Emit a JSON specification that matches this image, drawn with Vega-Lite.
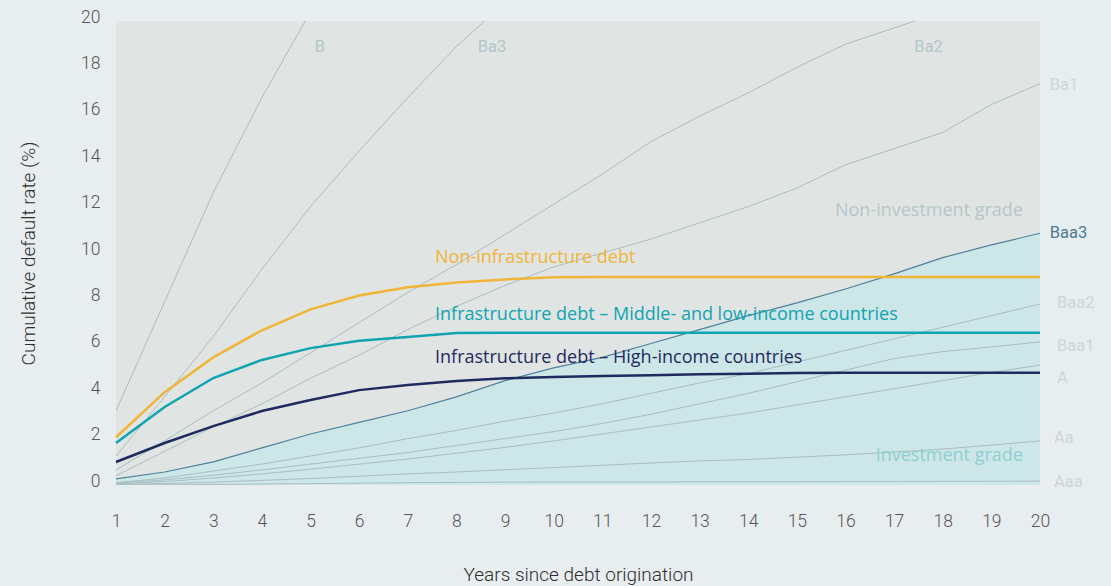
{
  "$schema": "https://vega.github.io/schema/vega-lite/v6.json",
  "width": 924,
  "height": 464,
  "autosize": "none",
  "padding": {"left": 116, "top": 21, "right": 71, "bottom": 101},
  "background": "#e8edef",
  "config": {"view": {"fill": "#e0e5e4", "stroke": null}, "font": "Roboto"},
  "datasets": {
    "curves": [
      {"series": "B", "grp": "rating", "year": 1, "value": 3.2},
      {"series": "B", "grp": "rating", "year": 2, "value": 7.9},
      {"series": "B", "grp": "rating", "year": 3, "value": 12.6},
      {"series": "B", "grp": "rating", "year": 4, "value": 16.7},
      {"series": "B", "grp": "rating", "year": 5, "value": 20.4},
      {"series": "B", "grp": "rating", "year": 6, "value": 23.6},
      {"series": "Ba3", "grp": "rating", "year": 1, "value": 1.25},
      {"series": "Ba3", "grp": "rating", "year": 2, "value": 3.8},
      {"series": "Ba3", "grp": "rating", "year": 3, "value": 6.4},
      {"series": "Ba3", "grp": "rating", "year": 4, "value": 9.3},
      {"series": "Ba3", "grp": "rating", "year": 5, "value": 12.0},
      {"series": "Ba3", "grp": "rating", "year": 6, "value": 14.4},
      {"series": "Ba3", "grp": "rating", "year": 7, "value": 16.7},
      {"series": "Ba3", "grp": "rating", "year": 8, "value": 18.9},
      {"series": "Ba3", "grp": "rating", "year": 9, "value": 20.8},
      {"series": "Ba3", "grp": "rating", "year": 10, "value": 22.5},
      {"series": "Ba2", "grp": "rating", "year": 1, "value": 0.65},
      {"series": "Ba2", "grp": "rating", "year": 2, "value": 1.9},
      {"series": "Ba2", "grp": "rating", "year": 3, "value": 3.2},
      {"series": "Ba2", "grp": "rating", "year": 4, "value": 4.4},
      {"series": "Ba2", "grp": "rating", "year": 5, "value": 5.7},
      {"series": "Ba2", "grp": "rating", "year": 6, "value": 7.0},
      {"series": "Ba2", "grp": "rating", "year": 7, "value": 8.3},
      {"series": "Ba2", "grp": "rating", "year": 8, "value": 9.5},
      {"series": "Ba2", "grp": "rating", "year": 9, "value": 10.8},
      {"series": "Ba2", "grp": "rating", "year": 10, "value": 12.1},
      {"series": "Ba2", "grp": "rating", "year": 11, "value": 13.4},
      {"series": "Ba2", "grp": "rating", "year": 12, "value": 14.8},
      {"series": "Ba2", "grp": "rating", "year": 13, "value": 15.9},
      {"series": "Ba2", "grp": "rating", "year": 14, "value": 16.9},
      {"series": "Ba2", "grp": "rating", "year": 15, "value": 18.0},
      {"series": "Ba2", "grp": "rating", "year": 16, "value": 19.0},
      {"series": "Ba2", "grp": "rating", "year": 17, "value": 19.7},
      {"series": "Ba2", "grp": "rating", "year": 18, "value": 20.4},
      {"series": "Ba2", "grp": "rating", "year": 19, "value": 21.0},
      {"series": "Ba2", "grp": "rating", "year": 20, "value": 21.6},
      {"series": "Ba1", "grp": "rating", "year": 1, "value": 0.4},
      {"series": "Ba1", "grp": "rating", "year": 2, "value": 1.45},
      {"series": "Ba1", "grp": "rating", "year": 3, "value": 2.5},
      {"series": "Ba1", "grp": "rating", "year": 4, "value": 3.5},
      {"series": "Ba1", "grp": "rating", "year": 5, "value": 4.6},
      {"series": "Ba1", "grp": "rating", "year": 6, "value": 5.6},
      {"series": "Ba1", "grp": "rating", "year": 7, "value": 6.7},
      {"series": "Ba1", "grp": "rating", "year": 8, "value": 7.7},
      {"series": "Ba1", "grp": "rating", "year": 9, "value": 8.6},
      {"series": "Ba1", "grp": "rating", "year": 10, "value": 9.4},
      {"series": "Ba1", "grp": "rating", "year": 11, "value": 10.0},
      {"series": "Ba1", "grp": "rating", "year": 12, "value": 10.6},
      {"series": "Ba1", "grp": "rating", "year": 13, "value": 11.3},
      {"series": "Ba1", "grp": "rating", "year": 14, "value": 12.0},
      {"series": "Ba1", "grp": "rating", "year": 15, "value": 12.8},
      {"series": "Ba1", "grp": "rating", "year": 16, "value": 13.8},
      {"series": "Ba1", "grp": "rating", "year": 17, "value": 14.5},
      {"series": "Ba1", "grp": "rating", "year": 18, "value": 15.2},
      {"series": "Ba1", "grp": "rating", "year": 19, "value": 16.4},
      {"series": "Ba1", "grp": "rating", "year": 20, "value": 17.3},
      {"series": "Baa3", "grp": "baa3", "year": 1, "value": 0.26},
      {"series": "Baa3", "grp": "baa3", "year": 2, "value": 0.56},
      {"series": "Baa3", "grp": "baa3", "year": 3, "value": 1.0},
      {"series": "Baa3", "grp": "baa3", "year": 4, "value": 1.6},
      {"series": "Baa3", "grp": "baa3", "year": 5, "value": 2.2},
      {"series": "Baa3", "grp": "baa3", "year": 6, "value": 2.7},
      {"series": "Baa3", "grp": "baa3", "year": 7, "value": 3.2},
      {"series": "Baa3", "grp": "baa3", "year": 8, "value": 3.8},
      {"series": "Baa3", "grp": "baa3", "year": 9, "value": 4.5},
      {"series": "Baa3", "grp": "baa3", "year": 10, "value": 5.05},
      {"series": "Baa3", "grp": "baa3", "year": 11, "value": 5.5},
      {"series": "Baa3", "grp": "baa3", "year": 12, "value": 6.1},
      {"series": "Baa3", "grp": "baa3", "year": 13, "value": 6.7},
      {"series": "Baa3", "grp": "baa3", "year": 14, "value": 7.3},
      {"series": "Baa3", "grp": "baa3", "year": 15, "value": 7.85},
      {"series": "Baa3", "grp": "baa3", "year": 16, "value": 8.45},
      {"series": "Baa3", "grp": "baa3", "year": 17, "value": 9.1},
      {"series": "Baa3", "grp": "baa3", "year": 18, "value": 9.8},
      {"series": "Baa3", "grp": "baa3", "year": 19, "value": 10.35},
      {"series": "Baa3", "grp": "baa3", "year": 20, "value": 10.85},
      {"series": "Baa2", "grp": "rating", "year": 1, "value": 0.1},
      {"series": "Baa2", "grp": "rating", "year": 2, "value": 0.3},
      {"series": "Baa2", "grp": "rating", "year": 3, "value": 0.6},
      {"series": "Baa2", "grp": "rating", "year": 4, "value": 0.9},
      {"series": "Baa2", "grp": "rating", "year": 5, "value": 1.25},
      {"series": "Baa2", "grp": "rating", "year": 6, "value": 1.6},
      {"series": "Baa2", "grp": "rating", "year": 7, "value": 2.0},
      {"series": "Baa2", "grp": "rating", "year": 8, "value": 2.35},
      {"series": "Baa2", "grp": "rating", "year": 9, "value": 2.75},
      {"series": "Baa2", "grp": "rating", "year": 10, "value": 3.1},
      {"series": "Baa2", "grp": "rating", "year": 11, "value": 3.5},
      {"series": "Baa2", "grp": "rating", "year": 12, "value": 3.95},
      {"series": "Baa2", "grp": "rating", "year": 13, "value": 4.4},
      {"series": "Baa2", "grp": "rating", "year": 14, "value": 4.8},
      {"series": "Baa2", "grp": "rating", "year": 15, "value": 5.3},
      {"series": "Baa2", "grp": "rating", "year": 16, "value": 5.8},
      {"series": "Baa2", "grp": "rating", "year": 17, "value": 6.3},
      {"series": "Baa2", "grp": "rating", "year": 18, "value": 6.8},
      {"series": "Baa2", "grp": "rating", "year": 19, "value": 7.3},
      {"series": "Baa2", "grp": "rating", "year": 20, "value": 7.8},
      {"series": "Baa1", "grp": "rating", "year": 1, "value": 0.08},
      {"series": "Baa1", "grp": "rating", "year": 2, "value": 0.22},
      {"series": "Baa1", "grp": "rating", "year": 3, "value": 0.42},
      {"series": "Baa1", "grp": "rating", "year": 4, "value": 0.65},
      {"series": "Baa1", "grp": "rating", "year": 5, "value": 0.9},
      {"series": "Baa1", "grp": "rating", "year": 6, "value": 1.15},
      {"series": "Baa1", "grp": "rating", "year": 7, "value": 1.4},
      {"series": "Baa1", "grp": "rating", "year": 8, "value": 1.7},
      {"series": "Baa1", "grp": "rating", "year": 9, "value": 2.0},
      {"series": "Baa1", "grp": "rating", "year": 10, "value": 2.3},
      {"series": "Baa1", "grp": "rating", "year": 11, "value": 2.65},
      {"series": "Baa1", "grp": "rating", "year": 12, "value": 3.05},
      {"series": "Baa1", "grp": "rating", "year": 13, "value": 3.5},
      {"series": "Baa1", "grp": "rating", "year": 14, "value": 3.95},
      {"series": "Baa1", "grp": "rating", "year": 15, "value": 4.45},
      {"series": "Baa1", "grp": "rating", "year": 16, "value": 4.95},
      {"series": "Baa1", "grp": "rating", "year": 17, "value": 5.45},
      {"series": "Baa1", "grp": "rating", "year": 18, "value": 5.75},
      {"series": "Baa1", "grp": "rating", "year": 19, "value": 5.95},
      {"series": "Baa1", "grp": "rating", "year": 20, "value": 6.17},
      {"series": "A", "grp": "rating", "year": 1, "value": 0.05},
      {"series": "A", "grp": "rating", "year": 2, "value": 0.15},
      {"series": "A", "grp": "rating", "year": 3, "value": 0.3},
      {"series": "A", "grp": "rating", "year": 4, "value": 0.48},
      {"series": "A", "grp": "rating", "year": 5, "value": 0.68},
      {"series": "A", "grp": "rating", "year": 6, "value": 0.9},
      {"series": "A", "grp": "rating", "year": 7, "value": 1.12},
      {"series": "A", "grp": "rating", "year": 8, "value": 1.37},
      {"series": "A", "grp": "rating", "year": 9, "value": 1.62},
      {"series": "A", "grp": "rating", "year": 10, "value": 1.9},
      {"series": "A", "grp": "rating", "year": 11, "value": 2.2},
      {"series": "A", "grp": "rating", "year": 12, "value": 2.5},
      {"series": "A", "grp": "rating", "year": 13, "value": 2.8},
      {"series": "A", "grp": "rating", "year": 14, "value": 3.1},
      {"series": "A", "grp": "rating", "year": 15, "value": 3.45},
      {"series": "A", "grp": "rating", "year": 16, "value": 3.8},
      {"series": "A", "grp": "rating", "year": 17, "value": 4.15},
      {"series": "A", "grp": "rating", "year": 18, "value": 4.5},
      {"series": "A", "grp": "rating", "year": 19, "value": 4.85},
      {"series": "A", "grp": "rating", "year": 20, "value": 5.17},
      {"series": "Aa", "grp": "rating", "year": 1, "value": 0.02},
      {"series": "Aa", "grp": "rating", "year": 2, "value": 0.06},
      {"series": "Aa", "grp": "rating", "year": 3, "value": 0.12},
      {"series": "Aa", "grp": "rating", "year": 4, "value": 0.2},
      {"series": "Aa", "grp": "rating", "year": 5, "value": 0.28},
      {"series": "Aa", "grp": "rating", "year": 6, "value": 0.38},
      {"series": "Aa", "grp": "rating", "year": 7, "value": 0.48},
      {"series": "Aa", "grp": "rating", "year": 8, "value": 0.56},
      {"series": "Aa", "grp": "rating", "year": 9, "value": 0.66},
      {"series": "Aa", "grp": "rating", "year": 10, "value": 0.75},
      {"series": "Aa", "grp": "rating", "year": 11, "value": 0.85},
      {"series": "Aa", "grp": "rating", "year": 12, "value": 0.95},
      {"series": "Aa", "grp": "rating", "year": 13, "value": 1.04},
      {"series": "Aa", "grp": "rating", "year": 14, "value": 1.1},
      {"series": "Aa", "grp": "rating", "year": 15, "value": 1.2},
      {"series": "Aa", "grp": "rating", "year": 16, "value": 1.3},
      {"series": "Aa", "grp": "rating", "year": 17, "value": 1.42},
      {"series": "Aa", "grp": "rating", "year": 18, "value": 1.55},
      {"series": "Aa", "grp": "rating", "year": 19, "value": 1.72},
      {"series": "Aa", "grp": "rating", "year": 20, "value": 1.9},
      {"series": "Aaa", "grp": "rating", "year": 1, "value": 0.0},
      {"series": "Aaa", "grp": "rating", "year": 2, "value": 0.01},
      {"series": "Aaa", "grp": "rating", "year": 3, "value": 0.02},
      {"series": "Aaa", "grp": "rating", "year": 4, "value": 0.04},
      {"series": "Aaa", "grp": "rating", "year": 5, "value": 0.06},
      {"series": "Aaa", "grp": "rating", "year": 6, "value": 0.08},
      {"series": "Aaa", "grp": "rating", "year": 7, "value": 0.1},
      {"series": "Aaa", "grp": "rating", "year": 8, "value": 0.11},
      {"series": "Aaa", "grp": "rating", "year": 9, "value": 0.12},
      {"series": "Aaa", "grp": "rating", "year": 10, "value": 0.13},
      {"series": "Aaa", "grp": "rating", "year": 11, "value": 0.13},
      {"series": "Aaa", "grp": "rating", "year": 12, "value": 0.13},
      {"series": "Aaa", "grp": "rating", "year": 13, "value": 0.14},
      {"series": "Aaa", "grp": "rating", "year": 14, "value": 0.14},
      {"series": "Aaa", "grp": "rating", "year": 15, "value": 0.14},
      {"series": "Aaa", "grp": "rating", "year": 16, "value": 0.15},
      {"series": "Aaa", "grp": "rating", "year": 17, "value": 0.15},
      {"series": "Aaa", "grp": "rating", "year": 18, "value": 0.16},
      {"series": "Aaa", "grp": "rating", "year": 19, "value": 0.16},
      {"series": "Aaa", "grp": "rating", "year": 20, "value": 0.17},
      {"series": "Non-infrastructure debt", "grp": "main", "year": 1, "value": 2.06},
      {"series": "Non-infrastructure debt", "grp": "main", "year": 2, "value": 4.0},
      {"series": "Non-infrastructure debt", "grp": "main", "year": 3, "value": 5.5},
      {"series": "Non-infrastructure debt", "grp": "main", "year": 4, "value": 6.67},
      {"series": "Non-infrastructure debt", "grp": "main", "year": 5, "value": 7.57},
      {"series": "Non-infrastructure debt", "grp": "main", "year": 6, "value": 8.17},
      {"series": "Non-infrastructure debt", "grp": "main", "year": 7, "value": 8.52},
      {"series": "Non-infrastructure debt", "grp": "main", "year": 8, "value": 8.73},
      {"series": "Non-infrastructure debt", "grp": "main", "year": 9, "value": 8.86},
      {"series": "Non-infrastructure debt", "grp": "main", "year": 10, "value": 8.96},
      {"series": "Non-infrastructure debt", "grp": "main", "year": 11, "value": 8.97},
      {"series": "Non-infrastructure debt", "grp": "main", "year": 12, "value": 8.97},
      {"series": "Non-infrastructure debt", "grp": "main", "year": 13, "value": 8.97},
      {"series": "Non-infrastructure debt", "grp": "main", "year": 14, "value": 8.97},
      {"series": "Non-infrastructure debt", "grp": "main", "year": 15, "value": 8.97},
      {"series": "Non-infrastructure debt", "grp": "main", "year": 16, "value": 8.97},
      {"series": "Non-infrastructure debt", "grp": "main", "year": 17, "value": 8.97},
      {"series": "Non-infrastructure debt", "grp": "main", "year": 18, "value": 8.97},
      {"series": "Non-infrastructure debt", "grp": "main", "year": 19, "value": 8.97},
      {"series": "Non-infrastructure debt", "grp": "main", "year": 20, "value": 8.97},
      {"series": "Infrastructure debt – Middle- and low-income countries", "grp": "main", "year": 1, "value": 1.81},
      {"series": "Infrastructure debt – Middle- and low-income countries", "grp": "main", "year": 2, "value": 3.36},
      {"series": "Infrastructure debt – Middle- and low-income countries", "grp": "main", "year": 3, "value": 4.61},
      {"series": "Infrastructure debt – Middle- and low-income countries", "grp": "main", "year": 4, "value": 5.39},
      {"series": "Infrastructure debt – Middle- and low-income countries", "grp": "main", "year": 5, "value": 5.9},
      {"series": "Infrastructure debt – Middle- and low-income countries", "grp": "main", "year": 6, "value": 6.22},
      {"series": "Infrastructure debt – Middle- and low-income countries", "grp": "main", "year": 7, "value": 6.38},
      {"series": "Infrastructure debt – Middle- and low-income countries", "grp": "main", "year": 8, "value": 6.55},
      {"series": "Infrastructure debt – Middle- and low-income countries", "grp": "main", "year": 9, "value": 6.56},
      {"series": "Infrastructure debt – Middle- and low-income countries", "grp": "main", "year": 10, "value": 6.56},
      {"series": "Infrastructure debt – Middle- and low-income countries", "grp": "main", "year": 11, "value": 6.56},
      {"series": "Infrastructure debt – Middle- and low-income countries", "grp": "main", "year": 12, "value": 6.56},
      {"series": "Infrastructure debt – Middle- and low-income countries", "grp": "main", "year": 13, "value": 6.56},
      {"series": "Infrastructure debt – Middle- and low-income countries", "grp": "main", "year": 14, "value": 6.56},
      {"series": "Infrastructure debt – Middle- and low-income countries", "grp": "main", "year": 15, "value": 6.56},
      {"series": "Infrastructure debt – Middle- and low-income countries", "grp": "main", "year": 16, "value": 6.56},
      {"series": "Infrastructure debt – Middle- and low-income countries", "grp": "main", "year": 17, "value": 6.56},
      {"series": "Infrastructure debt – Middle- and low-income countries", "grp": "main", "year": 18, "value": 6.56},
      {"series": "Infrastructure debt – Middle- and low-income countries", "grp": "main", "year": 19, "value": 6.56},
      {"series": "Infrastructure debt – Middle- and low-income countries", "grp": "main", "year": 20, "value": 6.56},
      {"series": "Infrastructure debt – High-income countries", "grp": "main", "year": 1, "value": 0.99},
      {"series": "Infrastructure debt – High-income countries", "grp": "main", "year": 2, "value": 1.81},
      {"series": "Infrastructure debt – High-income countries", "grp": "main", "year": 3, "value": 2.54},
      {"series": "Infrastructure debt – High-income countries", "grp": "main", "year": 4, "value": 3.19},
      {"series": "Infrastructure debt – High-income countries", "grp": "main", "year": 5, "value": 3.66},
      {"series": "Infrastructure debt – High-income countries", "grp": "main", "year": 6, "value": 4.09},
      {"series": "Infrastructure debt – High-income countries", "grp": "main", "year": 7, "value": 4.31},
      {"series": "Infrastructure debt – High-income countries", "grp": "main", "year": 8, "value": 4.48},
      {"series": "Infrastructure debt – High-income countries", "grp": "main", "year": 9, "value": 4.6},
      {"series": "Infrastructure debt – High-income countries", "grp": "main", "year": 10, "value": 4.66},
      {"series": "Infrastructure debt – High-income countries", "grp": "main", "year": 11, "value": 4.7},
      {"series": "Infrastructure debt – High-income countries", "grp": "main", "year": 12, "value": 4.73},
      {"series": "Infrastructure debt – High-income countries", "grp": "main", "year": 13, "value": 4.77},
      {"series": "Infrastructure debt – High-income countries", "grp": "main", "year": 14, "value": 4.8},
      {"series": "Infrastructure debt – High-income countries", "grp": "main", "year": 15, "value": 4.83},
      {"series": "Infrastructure debt – High-income countries", "grp": "main", "year": 16, "value": 4.84},
      {"series": "Infrastructure debt – High-income countries", "grp": "main", "year": 17, "value": 4.84},
      {"series": "Infrastructure debt – High-income countries", "grp": "main", "year": 18, "value": 4.84},
      {"series": "Infrastructure debt – High-income countries", "grp": "main", "year": 19, "value": 4.84},
      {"series": "Infrastructure debt – High-income countries", "grp": "main", "year": 20, "value": 4.84}
    ],
    "labels": [
      {"text": "Non-infrastructure debt", "series": "Non-infrastructure debt", "grp": "main", "year": 7.56, "value": 9.78},
      {"text": "Infrastructure debt – Middle- and low-income countries", "series": "Infrastructure debt – Middle- and low-income countries", "grp": "main", "year": 7.56, "value": 7.33},
      {"text": "Infrastructure debt – High-income countries", "series": "Infrastructure debt – High-income countries", "grp": "main", "year": 7.56, "value": 5.47},
      {"text": "B", "grp": "top", "year": 5.19, "value": 18.88},
      {"text": "Ba3", "grp": "top", "year": 8.73, "value": 18.88},
      {"text": "Ba2", "grp": "top", "year": 17.71, "value": 18.88},
      {"text": "Ba1", "grp": "right", "year": 20.2, "value": 17.24},
      {"text": "Baa3", "grp": "right", "year": 20.2, "value": 10.86},
      {"text": "Baa2", "grp": "right", "year": 20.35, "value": 7.84},
      {"text": "Baa1", "grp": "right", "year": 20.35, "value": 5.99},
      {"text": "A", "grp": "right", "year": 20.35, "value": 4.61},
      {"text": "Aa", "grp": "right", "year": 20.29, "value": 2.03},
      {"text": "Aaa", "grp": "right", "year": 20.29, "value": 0.13},
      {"text": "Non-investment grade", "grp": "region", "year": 19.65, "value": 11.8},
      {"text": "Investment grade", "grp": "region", "year": 19.65, "value": 1.25}
    ]
  },
  "encoding": {
    "x": {
      "field": "year", "type": "quantitative",
      "scale": {"domain": [1, 20], "nice": false, "zero": false},
      "axis": {
        "values": [1,2,3,4,5,6,7,8,9,10,11,12,13,14,15,16,17,18,19,20],
        "title": "Years since debt origination",
        "domain": false, "ticks": false, "tickSize": 0, "grid": false,
        "labelFont": "Roboto", "labelFontWeight": 300, "labelFontSize": 17.5, "labelColor": "#555555",
        "labelPadding": 27, "labelFlush": false,
        "titleFont": "Roboto", "titleFontWeight": 300, "titleFontSize": 19, "titleColor": "#2e2e2e",
        "titlePadding": 36
      }
    },
    "y": {
      "field": "value", "type": "quantitative",
      "scale": {"domain": [0, 20], "nice": false},
      "axis": {
        "values": [0,2,4,6,8,10,12,14,16,18,20],
        "title": "Cumulative default rate (%)",
        "domain": false, "ticks": false, "tickSize": 0, "grid": false,
        "labelFont": "Roboto", "labelFontWeight": 300, "labelFontSize": 17.5, "labelColor": "#555555",
        "labelPadding": 16, "labelOffset": -4,
        "titleFont": "Roboto", "titleFontWeight": 300, "titleFontSize": 19, "titleColor": "#2e2e2e",
        "titlePadding": 42
      }
    }
  },
  "layer": [
    {
      "data": {"name": "curves"},
      "transform": [{"filter": "datum.series === 'Baa3'"}],
      "mark": {"type": "area", "color": "#cde6e8", "opacity": 1}
    },
    {
      "data": {"name": "curves"},
      "transform": [{"filter": "datum.grp === 'rating'"}],
      "mark": {"type": "line", "stroke": "#a8bec1", "strokeWidth": 1, "clip": true},
      "encoding": {"detail": {"field": "series"}}
    },
    {
      "data": {"name": "curves"},
      "transform": [{"filter": "datum.series === 'Baa3'"}],
      "mark": {"type": "line", "stroke": "#4f819a", "strokeWidth": 1.2}
    },
    {
      "data": {"name": "curves"},
      "transform": [{"filter": "datum.grp === 'main'"}],
      "mark": {"type": "line", "strokeWidth": 2.5},
      "encoding": {
        "color": {
          "field": "series", "type": "nominal", "legend": null,
          "scale": {
            "domain": ["Non-infrastructure debt", "Infrastructure debt – Middle- and low-income countries", "Infrastructure debt – High-income countries"],
            "range": ["#f0b437", "#10a4b0", "#1f2b5e"]
          }
        }
      }
    },
    {
      "data": {"name": "labels"},
      "transform": [{"filter": "datum.grp === 'main'"}],
      "mark": {"type": "text", "align": "left", "baseline": "middle", "font": "Open Sans", "fontSize": 18},
      "encoding": {
        "text": {"field": "text"},
        "color": {"field": "series", "type": "nominal", "legend": null}
      }
    },
    {
      "data": {"name": "labels"},
      "transform": [{"filter": "datum.grp === 'top'"}],
      "mark": {"type": "text", "align": "center", "baseline": "middle", "font": "Roboto", "fontSize": 16.5, "color": "#b3c6c9"},
      "encoding": {"text": {"field": "text"}}
    },
    {
      "data": {"name": "labels"},
      "transform": [{"filter": "datum.grp === 'right'"}],
      "mark": {"type": "text", "align": "left", "baseline": "middle", "font": "Roboto", "fontSize": 16.5, "clip": false},
      "encoding": {
        "text": {"field": "text"},
        "color": {"condition": {"test": "datum.text === 'Baa3'", "value": "#4d7a96"}, "value": "#cbd7da"}
      }
    },
    {
      "data": {"name": "labels"},
      "transform": [{"filter": "datum.grp === 'region'"}],
      "mark": {"type": "text", "align": "right", "baseline": "middle", "font": "Open Sans", "fontSize": 18},
      "encoding": {
        "text": {"field": "text"},
        "color": {"condition": {"test": "datum.text === 'Investment grade'", "value": "#8ecfd1"}, "value": "#b5c5c7"}
      }
    }
  ]
}
